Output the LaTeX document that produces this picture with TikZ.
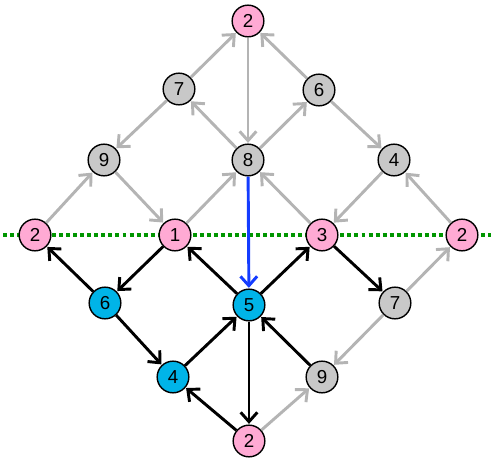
\documentclass[tikz,border=0pt]{standalone}
\usepackage{fontspec}
\setmainfont{Liberation Sans}
\usetikzlibrary{arrows.meta}
\definecolor{nodepink}{RGB}{255,170,212}
\definecolor{nodeblue}{RGB}{0,180,232}
\definecolor{nodegray}{RGB}{200,200,200}
\definecolor{edgegray}{RGB}{180,180,180}
\definecolor{edgeblue}{RGB}{20,60,255}
\definecolor{cutgreen}{RGB}{0,150,0}
\tikzset{
	vtx/.style={circle, draw=black, line width=1.2pt, minimum size=0.95cm, inner sep=0pt, font=\fontsize{16}{18}\selectfont},
	pinkv/.style={vtx, fill=nodepink},
	bluev/.style={vtx, fill=nodeblue},
	grayv/.style={vtx, fill=nodegray},
	arr/.style={line width=2.5pt, -{Straight Barb[length=2.8mm,width=5mm,line width=2.5pt]}, shorten >=0.5pt},
	grayarr/.style={arr, draw=edgegray},
	blackarr/.style={arr, draw=black},
	bluearr/.style={arr, draw=edgeblue},
}

\begin{document}
\begin{tikzpicture}[x=0.03cm, y=-0.03cm]
	\useasboundingbox (0,0) rectangle (491,460);
	
	\draw[cutgreen, line width=3.4pt, dash pattern=on 3.4pt off 2.6pt] (3,235) -- (491,235);
	
	% upper half
	\node[pinkv] (t2) at (248,21) {2};
	\node[grayv] (t7) at (179,89) {7};
	\node[grayv] (t6) at (319,90) {6};
	\node[grayv] (t9) at (104,160) {9};
	\node[grayv] (t8) at (248,160) {8};
	\node[grayv] (t4) at (394,160) {4};
	
	% middle row
	\node[pinkv] (l2) at (35,235) {2};
	\node[pinkv] (m1) at (175,235) {1};
	\node[pinkv] (m3) at (322,235) {3};
	\node[pinkv] (r2) at (462,235) {2};
	
	% lower half
	\node[bluev] (b6) at (105,303) {6};
	\node[bluev] (b5) at (249,305) {5};
	\node[grayv] (b7) at (395,303) {7};
	\node[bluev] (b4) at (173,377) {4};
	\node[grayv] (b9) at (322,377) {9};
	\node[pinkv] (b2) at (249,441) {2};
	
	\draw[grayarr] (t7) -- (t2);
	\draw[grayarr] (t6) -- (t2);
	\draw[grayarr] (t2) -- (t8);
	\draw[grayarr] (t7) -- (t9);
	\draw[grayarr] (t8) -- (t7);
	\draw[grayarr] (t8) -- (t6);
	\draw[grayarr] (t6) -- (t4);
	\draw[grayarr] (l2) -- (t9);
	\draw[grayarr] (t9) -- (m1);
	\draw[grayarr] (m1) -- (t8);
	\draw[grayarr] (m3) -- (t8);
	\draw[grayarr] (t4) -- (m3);
	\draw[grayarr] (r2) -- (t4);
	\draw[grayarr] (b7) -- (r2);
	\draw[grayarr] (b7) -- (b9);
	\draw[grayarr] (b2) -- (b9);
	
	\draw[blackarr] (b6) -- (l2);
	\draw[blackarr] (m1) -- (b6);
	\draw[blackarr] (b6) -- (b4);
	\draw[blackarr] (b4) -- (b5);
	\draw[blackarr] (b5) -- (m1);
	\draw[blackarr] (b5) -- (m3);
	\draw[blackarr] (m3) -- (b7);
	\draw[blackarr] (b9) -- (b5);
	\draw[blackarr] (b5) -- (b2);
	\draw[blackarr] (b2) -- (b4);
	
	\draw[bluearr] (t8) -- (b5);
\end{tikzpicture}
\end{document}
